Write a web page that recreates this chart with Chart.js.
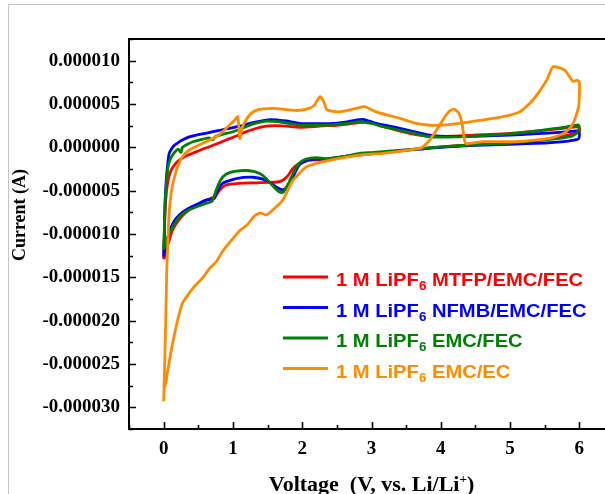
<!DOCTYPE html>
<html>
<head>
<meta charset="utf-8">
<title>Cyclic voltammetry</title>
<script src="https://cdn.jsdelivr.net/npm/chart.js@4.4.0/dist/chart.umd.min.js"></script>
<style>
    html, body { margin: 0; padding: 0; background: #fff; overflow: hidden; }
    #wrap { position: relative; width: 625px; height: 494px; }
    #frame {
        position: absolute; left: 8px; top: 4px; right: 0; bottom: 0;
        border-left: 1px solid #c4c4c4; border-top: 1px solid #c4c4c4;
        pointer-events: none;
    }
</style>
</head>
<body>
<div id="wrap">
    <canvas id="cvChart"></canvas>
    <div id="frame"></div>
</div>
<script>
// Electrolyte names (legend) and line colours
const saltPrefix = '1 M LiPF'
const saltSub = '6'
const solvents = ['MTFP/EMC/FEC', 'NFMB/EMC/FEC', 'EMC/FEC', 'EMC/EC']
const colors = ['#ff0000', '#0000ff', '#008000', '#ff8c00']

// Axis ticks (voltage in V, current in µA)
const xTicks = [-0.5, 0, 0.5, 1, 1.5, 2, 2.5, 3, 3.5, 4, 4.5, 5, 5.5, 6, 6.5]
const yTicks = [-32.5, -30, -27.5, -25, -22.5, -20, -17.5, -15, -12.5, -10, -7.5, -5, -2.5, 0, 2.5, 5, 7.5, 10, 12.5]

// CV loops: [voltage (V), current (µA)], anodic sweep 0 -> 6 V then back to 0 V
const mtfpCurve = [[0.00,-12.9],[0.01,-10.5],[0.02,-7.5],[0.04,-5.2],[0.07,-3.6],[0.11,-2.6],[0.17,-1.9],[0.23,-1.46],[0.32,-1.0],[0.42,-0.69],[0.55,-0.25],[0.66,0.07],[0.80,0.5],[0.90,0.84],[1.05,1.3],[1.19,1.8],[1.34,2.2],[1.48,2.46],[1.62,2.5],[1.77,2.45],[1.96,2.3],[2.10,2.35],[2.25,2.46],[2.50,2.55],[2.73,2.76],[2.90,2.9],[3.05,2.7],[3.26,2.2],[3.55,1.6],[3.84,1.25],[4.20,1.3],[4.60,1.45],[5.00,1.6],[5.33,1.85],[5.77,2.2],[5.97,2.35],[6.00,2.2],[6.00,1.8],[5.90,1.55],[5.77,1.3],[5.50,0.9],[5.00,0.5],[4.50,0.3],[4.00,0.05],[3.50,-0.3],[3.00,-0.75],[2.83,-0.89],[2.59,-1.08],[2.35,-1.4],[2.10,-1.5],[1.95,-1.9],[1.86,-2.5],[1.79,-3.3],[1.72,-3.8],[1.64,-4.0],[1.50,-4.05],[1.34,-4.1],[1.09,-4.15],[0.90,-4.35],[0.80,-5.0],[0.74,-5.7],[0.61,-6.1],[0.50,-6.6],[0.37,-7.2],[0.27,-7.9],[0.18,-8.8],[0.12,-9.7],[0.08,-10.7],[0.04,-11.8],[0.01,-12.8],[0.00,-12.9]]

const nfmbCurve = [[0.00,-12.6],[0.01,-10.0],[0.02,-6.5],[0.04,-3.5],[0.06,-1.8],[0.08,-0.69],[0.12,-0.1],[0.15,0.2],[0.21,0.55],[0.27,0.84],[0.37,1.2],[0.47,1.42],[0.60,1.62],[0.71,1.8],[0.83,2.0],[0.95,2.19],[1.10,2.45],[1.24,2.76],[1.38,3.0],[1.53,3.2],[1.65,3.15],[1.77,3.05],[1.96,2.76],[2.20,2.72],[2.44,2.76],[2.65,2.95],[2.78,3.15],[2.88,3.23],[3.07,2.76],[3.41,2.19],[3.84,1.42],[4.20,1.25],[4.60,1.3],[5.00,1.4],[5.33,1.55],[5.77,1.75],[5.97,1.9],[6.00,1.6],[5.99,1.0],[5.90,0.8],[5.77,0.65],[5.50,0.5],[5.00,0.35],[4.50,0.22],[4.00,0.0],[3.50,-0.35],[3.00,-0.72],[2.83,-0.8],[2.59,-1.1],[2.35,-1.35],[2.10,-1.4],[1.96,-2.0],[1.88,-3.2],[1.80,-4.5],[1.72,-4.9],[1.63,-4.6],[1.48,-3.8],[1.29,-3.45],[1.05,-3.6],[0.85,-4.15],[0.78,-5.0],[0.73,-5.9],[0.61,-6.1],[0.50,-6.5],[0.37,-7.0],[0.27,-7.5],[0.18,-8.2],[0.12,-9.0],[0.08,-9.9],[0.04,-11.0],[0.01,-12.2],[0.00,-12.6]]

const fecCurve = [[0.00,-11.8],[0.01,-9.5],[0.02,-6.5],[0.04,-4.2],[0.06,-2.4],[0.09,-1.5],[0.12,-1.0],[0.16,-0.55],[0.21,-0.2],[0.25,-0.6],[0.27,0.0],[0.33,0.3],[0.42,0.65],[0.52,0.85],[0.65,1.1],[0.71,0.85],[0.74,1.2],[0.85,1.5],[1.00,1.8],[1.12,2.15],[1.24,2.57],[1.36,2.85],[1.48,3.03],[1.67,2.95],[1.82,2.75],[1.96,2.57],[2.20,2.55],[2.44,2.6],[2.65,2.75],[2.83,2.95],[3.00,2.75],[3.17,2.38],[3.50,1.8],[3.84,1.22],[4.20,1.2],[4.60,1.35],[5.00,1.55],[5.33,1.85],[5.77,2.3],[5.98,2.6],[6.00,2.4],[5.98,1.8],[5.90,1.3],[5.77,1.1],[5.50,0.85],[5.00,0.5],[4.50,0.3],[4.00,0.05],[3.50,-0.3],[3.00,-0.6],[2.83,-0.69],[2.59,-1.08],[2.35,-1.3],[2.20,-1.2],[2.06,-1.35],[1.96,-1.8],[1.88,-2.8],[1.80,-4.2],[1.72,-5.2],[1.66,-5.1],[1.58,-4.5],[1.48,-3.6],[1.38,-3.0],[1.24,-2.7],[1.05,-2.75],[0.90,-3.1],[0.82,-3.8],[0.76,-4.9],[0.70,-6.2],[0.60,-6.5],[0.50,-6.8],[0.37,-7.2],[0.23,-8.0],[0.11,-9.5],[0.04,-10.7],[0.01,-11.5],[0.00,-11.8]]

const ecCurve = [[0.00,-29.3],[0.015,-25.0],[0.025,-21.8],[0.035,-18.0],[0.045,-14.2],[0.06,-11.0],[0.08,-7.5],[0.11,-5.2],[0.15,-3.6],[0.20,-2.24],[0.27,-1.08],[0.37,-0.31],[0.56,0.46],[0.76,1.22],[0.88,2.0],[0.95,2.57],[1.02,3.1],[1.07,3.53],[1.10,1.0],[1.13,2.2],[1.17,2.9],[1.24,3.73],[1.34,4.3],[1.58,4.5],[1.91,4.25],[2.10,4.5],[2.18,4.9],[2.22,5.46],[2.26,5.84],[2.29,5.6],[2.32,5.07],[2.36,4.3],[2.54,4.1],[2.78,4.5],[2.90,4.7],[3.07,4.1],[3.41,3.34],[3.65,2.76],[3.84,2.55],[4.00,2.55],[4.42,2.95],[4.90,3.53],[5.14,4.1],[5.33,5.46],[5.53,7.76],[5.62,9.3],[5.79,8.9],[5.87,8.0],[5.91,7.6],[5.97,7.75],[6.00,7.5],[6.00,6.0],[5.99,4.7],[5.95,3.6],[5.91,2.76],[5.85,2.1],[5.77,1.6],[5.57,1.04],[5.30,0.8],[5.09,0.65],[4.61,0.65],[4.36,0.46],[4.33,1.5],[4.30,3.0],[4.26,3.95],[4.19,4.4],[4.13,4.2],[4.06,3.53],[3.94,2.0],[3.82,0.65],[3.70,-0.1],[3.17,-0.69],[2.83,-0.89],[2.54,-1.27],[2.30,-1.66],[2.06,-2.24],[1.96,-3.0],[1.85,-4.0],[1.72,-6.08],[1.58,-7.2],[1.48,-7.8],[1.40,-7.6],[1.33,-7.8],[1.29,-8.1],[1.20,-9.0],[1.10,-9.6],[0.95,-11.0],[0.85,-12.0],[0.76,-13.2],[0.66,-14.0],[0.56,-15.1],[0.45,-16.0],[0.37,-16.8],[0.27,-18.0],[0.18,-20.7],[0.11,-23.4],[0.06,-25.7],[0.02,-27.6],[0.00,-27.6]]

const curves = [mtfpCurve, nfmbCurve, fecCurve, ecCurve]
const drawOrder = [3, 2, 1, 0]   // orange on top, red at the bottom

const serif = '"Liberation Serif", "Times New Roman", serif'
const sans = '"Liberation Sans", Arial, sans-serif'

function toPoints(curve) {
    return curve.map(p => ({x: p[0], y: p[1]}))
}

// Box round the plot with inward tick marks
const axisFrame = {
    id: 'axisFrame',
    afterDatasetsDraw(chart) {
        const {ctx, chartArea: a, scales: {x, y}} = chart
        ctx.save()
        ctx.strokeStyle = '#000'
        ctx.lineWidth = 2
        ctx.strokeRect(a.left, a.top, a.right - a.left, a.bottom - a.top)
        ctx.lineWidth = 1.6
        ctx.beginPath()
        x.ticks.forEach(t => {
            const px = Math.round(x.getPixelForValue(t.value)) + 0.5
            const len = Number.isInteger(t.value) ? 7 : 4
            ctx.moveTo(px, a.bottom)
            ctx.lineTo(px, a.bottom - len)
        })
        y.ticks.forEach(t => {
            const py = Math.round(y.getPixelForValue(t.value)) + 0.5
            const len = t.value % 5 === 0 ? 7 : 4
            ctx.moveTo(a.left, py)
            ctx.lineTo(a.left + len, py)
        })
        ctx.stroke()
        ctx.restore()
    }
}

// Legend with the subscript in LiPF6
const saltLegend = {
    id: 'saltLegend',
    afterDraw(chart) {
        const ctx = chart.ctx
        ctx.save()
        chart.data.datasets.forEach((ds, i) => {
            const yLine = 277 + i * 30.5
            ctx.strokeStyle = ds.borderColor
            ctx.lineWidth = 3
            ctx.beginPath()
            ctx.moveTo(283, yLine)
            ctx.lineTo(328, yLine)
            ctx.stroke()

            ctx.save()
            ctx.translate(336, yLine + 9)
            ctx.scale(1.12, 1)
            ctx.fillStyle = ds.borderColor
            ctx.textBaseline = 'alphabetic'
            let cx = 0
            ctx.font = 'bold 18px ' + sans
            ctx.fillText(saltPrefix, cx, 0)
            cx += ctx.measureText(saltPrefix).width
            ctx.font = 'bold 12px ' + sans
            ctx.fillText(saltSub, cx, 4)
            cx += ctx.measureText(saltSub).width
            ctx.font = 'bold 18px ' + sans
            ctx.fillText(' ' + solvents[i], cx, 0)
            ctx.restore()
        })
        ctx.restore()
    }
}

// Axis titles (x title has a superscript)
const axisTitles = {
    id: 'axisTitles',
    afterDraw(chart) {
        const {ctx, chartArea: a} = chart
        ctx.save()
        ctx.fillStyle = '#000'
        ctx.textBaseline = 'alphabetic'

        const main = 'Voltage  (V, vs. Li/Li'
        const sup = '+'
        const tail = ')'
        ctx.font = 'bold 22px ' + serif
        const w1 = ctx.measureText(main).width
        const w3 = ctx.measureText(tail).width
        ctx.font = 'bold 13px ' + serif
        const w2 = ctx.measureText(sup).width
        let cx = (a.left + a.right) / 2 - (w1 + w2 + w3) / 2
        const base = 491
        ctx.font = 'bold 22px ' + serif
        ctx.fillText(main, cx, base)
        cx += w1
        ctx.font = 'bold 13px ' + serif
        ctx.fillText(sup, cx, base - 8)
        cx += w2
        ctx.font = 'bold 22px ' + serif
        ctx.fillText(tail, cx, base)

        ctx.translate(20, 215)
        ctx.rotate(-Math.PI / 2)
        ctx.textAlign = 'center'
        ctx.textBaseline = 'middle'
        ctx.font = 'bold 18px ' + serif
        ctx.fillText('Current (A)', 0, 0)
        ctx.restore()
    }
}

const chartCanvas = document.getElementById('cvChart')
new Chart(chartCanvas, {
    type: 'scatter',
    data: {
        datasets: curves.map((c, i) => ({
            label: saltPrefix + saltSub + ' ' + solvents[i],
            data: toPoints(c),
            borderColor: colors[i],
            backgroundColor: colors[i],
            showLine: true,
            borderWidth: 2.8,
            tension: 0.2,
            pointRadius: 0,
            order: drawOrder[i]
        }))
    },
    options: {
        responsive: true,
        maintainAspectRatio: false,
        animation: false,
        layout: {padding: {top: 39, right: 11, left: 0, bottom: 0}},
        plugins: {
            legend: {display: false},
            tooltip: {enabled: false}
        },
        scales: {
            x: {
                type: 'linear',
                min: -0.5,
                max: 6.5,
                afterBuildTicks: s => { s.ticks = xTicks.map(v => ({value: v})) },
                afterFit: s => { s.height = 65 },
                grid: {display: false, drawTicks: false},
                border: {display: false},
                ticks: {
                    autoSkip: false,
                    maxRotation: 0,
                    padding: 9,
                    color: '#000',
                    font: {family: serif, size: 19, weight: 'bold'},
                    callback: v => Number.isInteger(v) ? String(v) : ''
                }
            },
            y: {
                type: 'linear',
                min: -32.5,
                max: 12.5,
                afterBuildTicks: s => { s.ticks = yTicks.map(v => ({value: v})) },
                afterFit: s => { s.width = 129 },
                grid: {display: false, drawTicks: false},
                border: {display: false},
                ticks: {
                    autoSkip: false,
                    padding: 9,
                    color: '#000',
                    font: {family: serif, size: 19, weight: 'bold'},
                    callback: v => v % 5 === 0 ? (v / 1e6).toFixed(6) : ''
                }
            }
        }
    },
    plugins: [axisFrame, saltLegend, axisTitles]
})
</script>
</body>
</html>
